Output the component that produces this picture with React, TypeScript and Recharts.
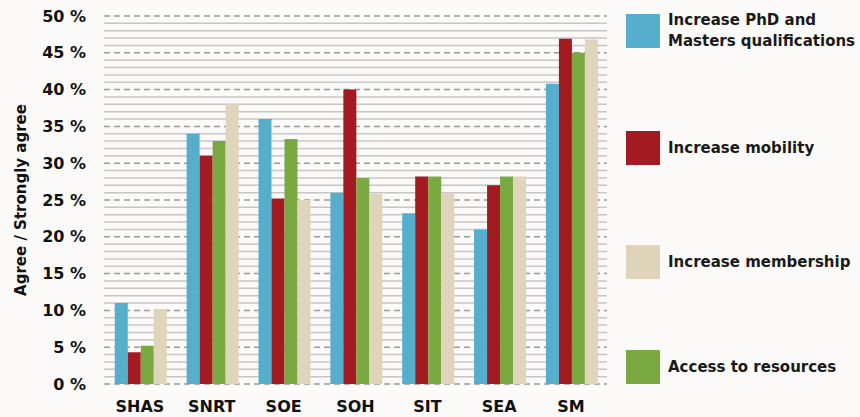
import React from 'react';
import { BarChart, Bar, XAxis, YAxis, CartesianGrid, Label } from 'recharts';

const categories = ['SHAS', 'SNRT', 'SOE', 'SOH', 'SIT', 'SEA', 'SM'];
const phdMasters = [11, 34, 36, 26, 23.2, 21, 40.8];
const mobility = [4.3, 31, 25.2, 40, 28.2, 27, 46.9];
const resources = [5.2, 33, 33.3, 28, 28.2, 28.2, 45];
const membership = [10.2, 38, 25, 25.8, 26, 28.2, 46.8];

const majorTicks = [0, 5, 10, 15, 20, 25, 30, 35, 40, 45, 50];
const minorTicks = Array.from({ length: 51 }, (_, i) => i).filter((v) => v % 5 !== 0);
const Y_MAX = 50;

const COLORS = {
  phd: '#56aecd',
  mob: '#a31a21',
  mem: '#e0d4ba',
  res: '#7aa841',
};

const legendItems = [
  { key: 'phd', lines: ['Increase PhD and', 'Masters qualifications'], color: COLORS.phd, top: 14 },
  { key: 'mob', lines: ['Increase mobility'], color: COLORS.mob, top: 131 },
  { key: 'mem', lines: ['Increase membership'], color: COLORS.mem, top: 245 },
  { key: 'res', lines: ['Access to resources'], color: COLORS.res, top: 350 },
];

const data = categories.map((c, i) => ({
  name: c,
  phd: phdMasters[i],
  mob: mobility[i],
  res: resources[i],
  mem: membership[i],
}));

const FONT = '"DejaVu Sans", sans-serif';

const minorGen = (props: any) => {
  const { yAxis, offset } = props || {};
  return minorTicks.map((v) => {
    if (yAxis && typeof yAxis.scale === 'function') return yAxis.scale(v);
    return offset.top + offset.height * (1 - v / Y_MAX);
  });
};

function LegendBlock() {
  return (
    <div style={{ position: 'absolute', left: 626, top: 0, width: 234, height: 417, fontFamily: FONT }}>
      {legendItems.map((it) => (
        <div key={it.key} style={{ position: 'absolute', left: 0, top: it.top, height: 34, display: 'flex', alignItems: 'center' }}>
          <div style={{ width: 34, height: 34, background: it.color, flex: '0 0 34px' }} />
          <div style={{ marginLeft: 8, fontSize: 15, fontWeight: 700, color: '#1a1a1a', lineHeight: '21px', whiteSpace: 'nowrap' }}>
            {it.lines.map((l) => (
              <div key={l}>{l}</div>
            ))}
          </div>
        </div>
      ))}
    </div>
  );
}

export default function App() {
  return (
    <div style={{ position: 'fixed', left: 0, top: 0, width: 860, height: 417, background: '#fbfaf8' }}>
      <BarChart
        width={860}
        height={417}
        data={data}
        margin={{ top: 16, right: 253, bottom: 0, left: 0 }}
        barCategoryGap="15%"
        barGap={0}
      >
        <CartesianGrid
          vertical={false}
          stroke="#c6c6c6"
          strokeWidth={1.5}
          horizontalCoordinatesGenerator={minorGen}
        />
        <CartesianGrid vertical={false} stroke="#9a9a9a" strokeWidth={1.5} strokeDasharray="6 4" />
        <XAxis
          dataKey="name"
          axisLine={false}
          tickLine={false}
          height={33}
          tickMargin={11}
          tick={{ fill: '#111', fontSize: 16, fontWeight: 700, fontFamily: FONT }}
        />
        <YAxis
          domain={[0, Y_MAX]}
          ticks={majorTicks}
          type="number"
          width={104}
          axisLine={false}
          tickLine={false}
          tickSize={0}
          tickMargin={18}
          tickFormatter={(v) => `${v} %`}
          tick={{ fill: '#111', fontSize: 16, fontWeight: 700, fontFamily: FONT }}
        >
          <Label
            value="Agree / Strongly agree"
            angle={-90}
            position="insideLeft"
            offset={21}
            style={{ textAnchor: 'middle', fill: '#111', fontSize: 15, fontWeight: 700, fontFamily: FONT }}
          />
        </YAxis>
        <Bar dataKey="phd" fill={COLORS.phd} isAnimationActive={false} />
        <Bar dataKey="mob" fill={COLORS.mob} isAnimationActive={false} />
        <Bar dataKey="res" fill={COLORS.res} isAnimationActive={false} />
        <Bar dataKey="mem" fill={COLORS.mem} isAnimationActive={false} />
      </BarChart>
      <LegendBlock />
    </div>
  );
}
